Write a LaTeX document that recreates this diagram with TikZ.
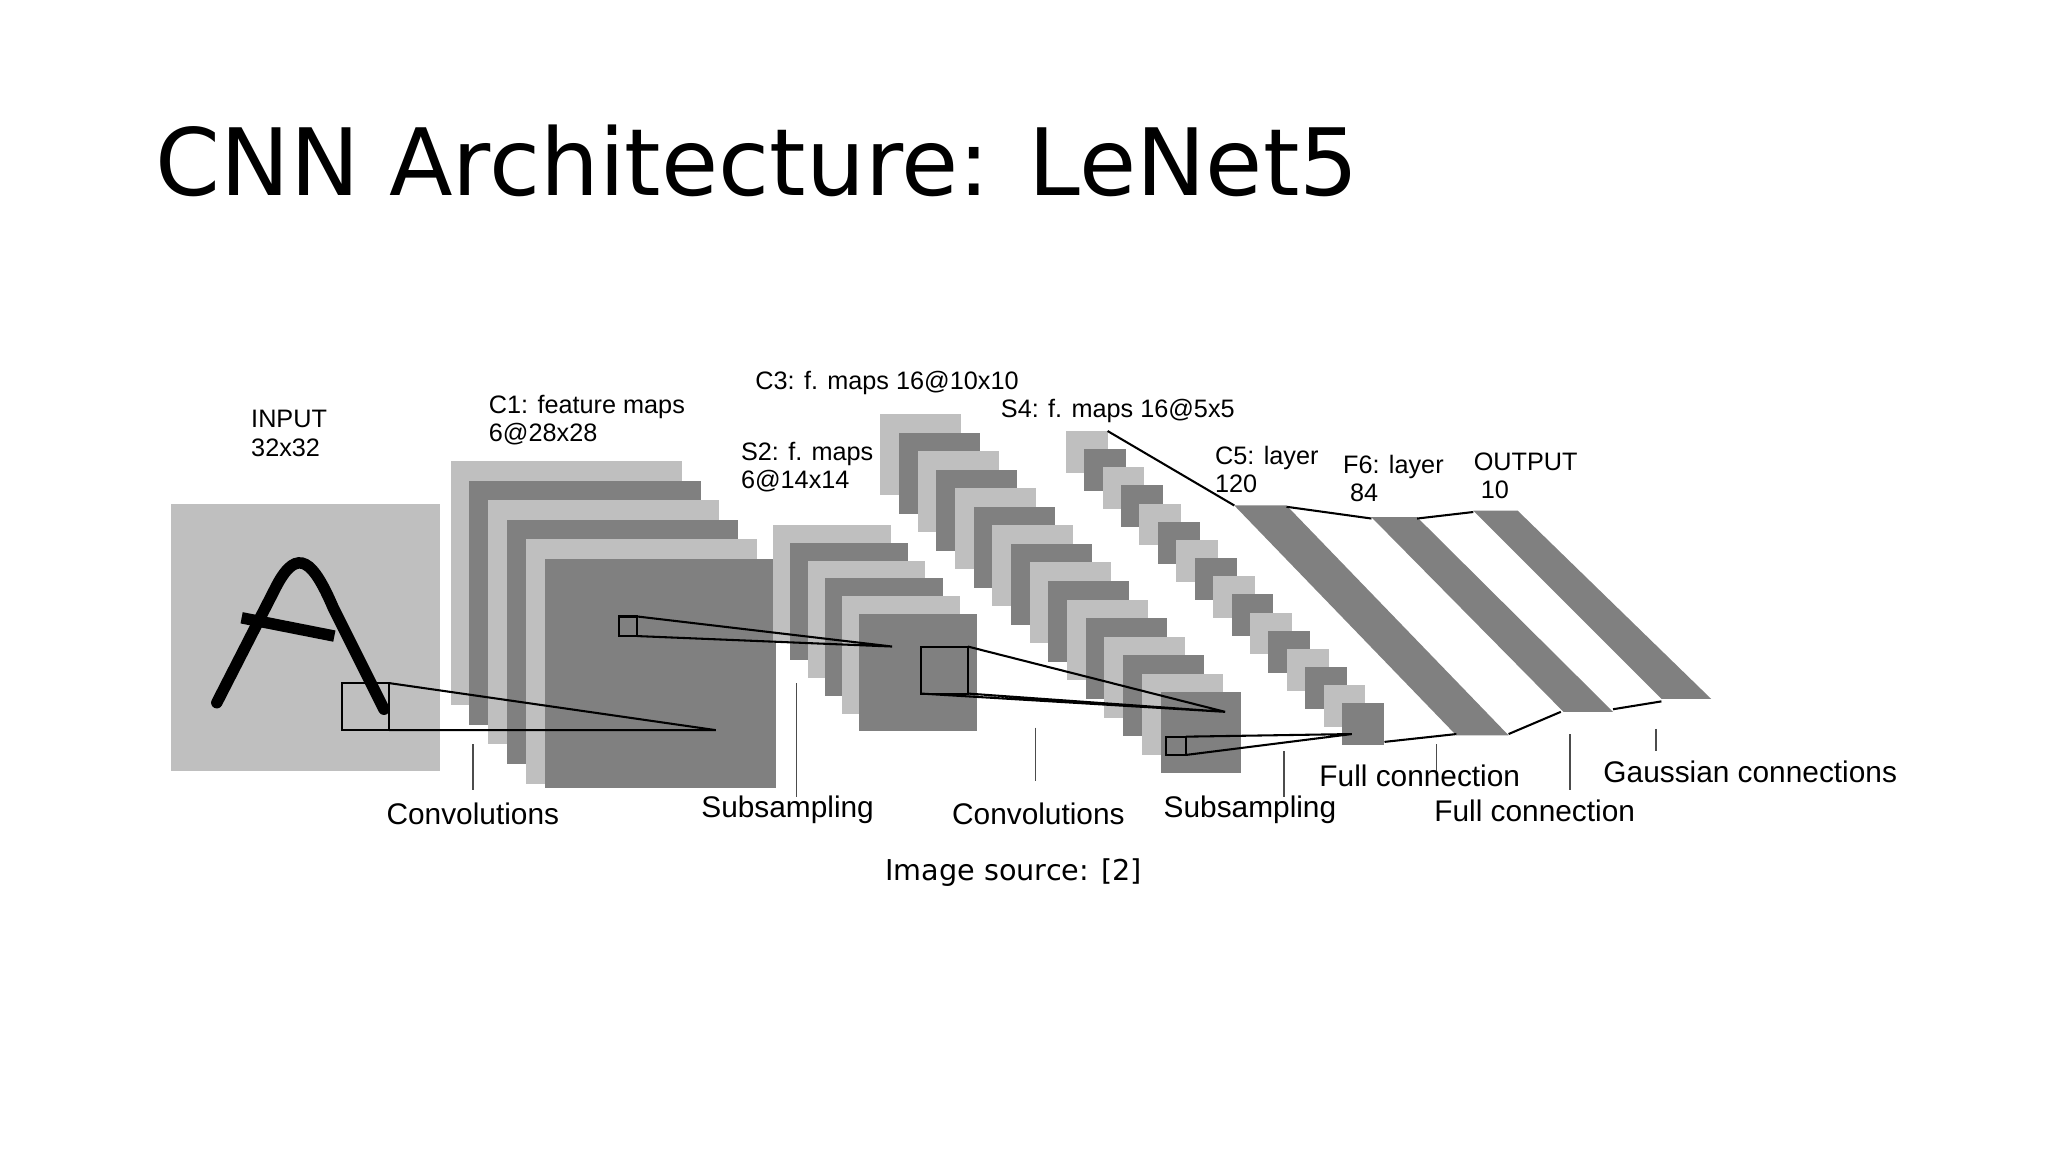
\documentclass[tikz,border=0pt]{standalone}
\usepackage{fontspec}
\setmainfont{DejaVu Sans}
\newfontfamily\lab{Liberation Sans}
\begin{document}
\begin{tikzpicture}[x=0.02cm,y=-0.02cm,
  thin/.style={draw=black,line width=0.9pt},
  lbl/.style={font=\lab\fontsize{11}{12.5}\selectfont,align=left,anchor=north west,inner sep=0pt},
  blbl/.style={font=\lab\fontsize{13}{15}\selectfont,inner sep=0pt},
  tick/.style={draw=black!70,line width=0.6pt}]
\useasboundingbox (0,0) rectangle (1568,882);
\node[anchor=base west,inner sep=0pt,font=\fontsize{40.5}{44}\selectfont] (title) at (119,150) {CNN Architecture: LeNet5};
% input
\fill[black!25] (131,386) rectangle (337,590);
\draw[line width=5pt,line cap=round] (166,538) -- (212,448) .. controls (228,418) and (240,430) .. (255,465) -- (294,543);
\draw[line width=5pt] (185,473) -- (256,487);
% C1
\foreach \i in {0,...,4}{
  \pgfmathsetmacro\xx{345+14.4*\i}\pgfmathsetmacro\yy{353+15*\i}
  \pgfmathparse{mod(\i,2)==0?25:50}\edef\c{\pgfmathresult}
  \fill[black!\c] (\xx,\yy) rectangle ++(177,187);}
\fill[black!50] (417,428) rectangle (594,603);
\draw[thin] (262,523) rectangle (298,559);
\coordinate (p1) at (548,559);
\draw[thin] (298,523) -- (p1) (298,559) -- (p1);
% S2
\foreach \i in {0,...,5}{
  \pgfmathsetmacro\xx{592+13.2*\i}\pgfmathsetmacro\yy{402+13.6*\i}
  \pgfmathparse{mod(\i,2)==0?25:50}\edef\c{\pgfmathresult}
  \fill[black!\c] (\xx,\yy) rectangle ++(90,90);}
\draw[thin] (474,472) rectangle (488,487);
\coordinate (p2) at (683,495);
\draw[thin] (488,472) -- (p2) (488,487) -- (p2);
% C3
\foreach \i in {0,...,15}{
  \pgfmathsetmacro\xx{674+14.3*\i}\pgfmathsetmacro\yy{317+14.2*\i}
  \pgfmathparse{mod(\i,2)==0?25:50}\edef\c{\pgfmathresult}
  \fill[black!\c] (\xx,\yy) rectangle ++(62,62);}
\draw[thin] (705,495) rectangle (741,531);
\coordinate (p3) at (938,545);
\draw[thin] (741,495) -- (p3) (741,531) -- (p3) (705,531) -- (p3);
% S4
\foreach \i in {0,...,15}{
  \pgfmathsetmacro\xx{816+14.1*\i}\pgfmathsetmacro\yy{330+13.9*\i}
  \pgfmathparse{mod(\i,2)==0?25:50}\edef\c{\pgfmathresult}
  \fill[black!\c] (\xx,\yy) rectangle ++(32,32);}
\draw[thin] (893,564) rectangle (908,578);
\coordinate (p4) at (1035,562);
\draw[thin] (908,564) -- (p4) (908,578) -- (p4);
% C5 F6 OUTPUT
\fill[black!50] (945,387) -- (985,387) -- (1155,563) -- (1115,563) -- cycle;
\fill[black!50] (1050,396) -- (1085,396) -- (1235,545) -- (1197,545) -- cycle;
\fill[black!50] (1128,391) -- (1162,391) -- (1310,535) -- (1272,535) -- cycle;
\draw[thin] (848,330) -- (945,387);
\draw[thin] (985,388) -- (1050,397) (1085,397) -- (1128,392);
\draw[thin] (1060,568) -- (1115,562) (1155,562) -- (1195,545) (1235,543) -- (1272,537);
% labels
\node[lbl] (lin) at (192,314) {INPUT\\32x32};
\node[lbl] (lc1) at (374,302) {C1: feature maps\\6@28x28};
\node[lbl] (ls2) at (567,338) {S2: f. maps\\6@14x14};
\node[lbl] (lc3) at (578,284) {C3: f. maps 16@10x10};
\node[lbl] (ls4) at (766,305) {S4: f. maps 16@5x5};
\node[lbl] (lc5) at (930,341) {C5: layer\\120};
\node[lbl] (lf6) at (1028,348) {F6: layer\\\ 84};
\node[lbl] (lout) at (1128,346) {OUTPUT\\\ 10};
\draw[tick] (362,570) -- (362,605);
\node[blbl] (b1) at (362,623) {Convolutions};
\draw[tick] (610,523) -- (610,610);
\node[blbl] (b2) at (603,620) {Subsampling};
\draw[tick] (793,557) -- (793,598);
\node[blbl] (b3) at (795,623) {Convolutions};
\draw[tick] (983,575) -- (983,610);
\node[blbl] (b4) at (957,620) {Subsampling};
\draw[tick] (1100,570) -- (1100,590);
\node[blbl] (b5) at (1087,594) {Full connection};
\draw[tick] (1202,562) -- (1202,605);
\node[blbl] (b6) at (1175,621) {Full connection};
\draw[tick] (1268,558) -- (1268,575);
\node[blbl] (b7) at (1340,591) {Gaussian connections};
\node[font=\fontsize{12.5}{14}\selectfont] (src) at (776,668) {Image source: [2]};
\end{tikzpicture}
\end{document}
